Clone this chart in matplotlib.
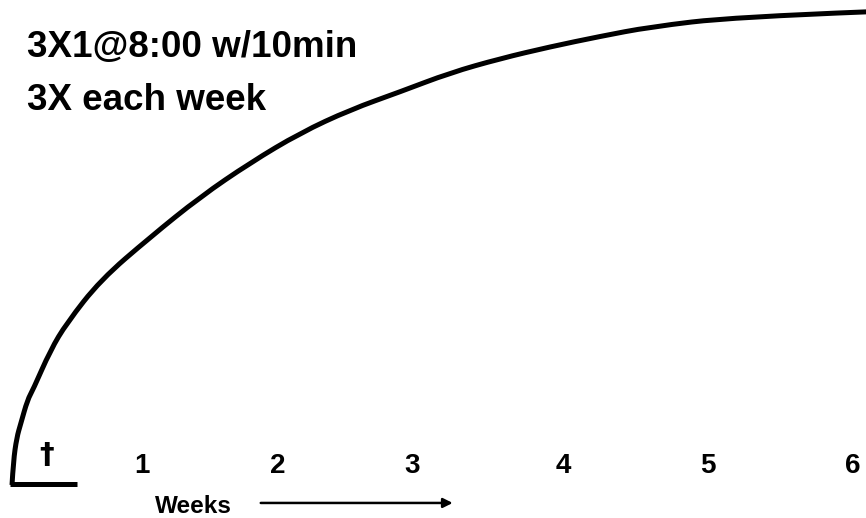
import matplotlib
matplotlib.use("Agg")
from matplotlib import pyplot as plt
from matplotlib.path import Path
from matplotlib.patches import PathPatch

plt.rcParams['font.family'] = ['Liberation Sans', 'DejaVu Sans']
plt.rcParams['font.weight'] = 'bold'

# fitness curve (x in weeks, y as level 0-100)
weeks = [0.015, 0.025, 0.05, 0.08, 0.13, 0.17, 0.30, 0.42, 0.67, 1.04, 1.41,
         1.78, 2.15, 2.52, 2.89, 3.26, 3.63, 4.0, 4.37, 4.74, 5.36, 6.35]
level = [0, 5, 10, 13, 18, 20.1, 28.5, 34.2, 43.3, 52.4, 60.9,
         68.1, 74.4, 79.3, 83.1, 87.1, 90.1, 92.6, 94.8, 96.8, 98.9, 100]

# little base line at the start
base_x = [0.0, 0.50]
base_y = [0.2, 0.2]

week_pos = [0.98, 1.98, 2.98, 4.10, 5.17, 6.24]
week_labels = ["1", "2", "3", "4", "5", "6"]

title_lines = ["3X1@8:00 w/10min", "3X each week"]

fig = plt.figure(figsize=(8.66, 5.18), dpi=100)
ax = fig.add_axes([0, 0, 1, 1])
ax.set_xlim(-0.074, 6.341)
ax.set_ylim(-6.98, 102.5)
ax.axis('off')

# smooth the curve: points are control points, midpoints lie on the curve
pts = list(zip(weeks, level))
verts = [pts[0]]
codes = [Path.MOVETO]
for i in range(1, len(pts) - 1):
    mid = ((pts[i][0] + pts[i + 1][0]) / 2, (pts[i][1] + pts[i + 1][1]) / 2)
    if i == len(pts) - 2:
        mid = pts[-1]
    verts += [pts[i], mid]
    codes += [Path.CURVE3, Path.CURVE3]
curve = PathPatch(Path(verts, codes), facecolor='none', edgecolor='black', lw=3.6, capstyle='butt')
ax.add_patch(curve)
ax.plot(base_x, base_y, color='black', lw=3.6, solid_capstyle='butt')

ax.text(0.126, 90.5, title_lines[0], fontsize=26.5, fontweight='bold', ha='left', va='baseline')
ax.text(0.126, 79.3, title_lines[1], fontsize=26.5, fontweight='bold', ha='left', va='baseline')

for p, lab in zip(week_pos, week_labels):
    ax.text(p, 2.54, lab, fontsize=20, fontweight='bold', ha='center', va='baseline')

ax.text(0.274, 4.6, "\u2020", fontsize=21, fontweight='bold', ha='center', va='baseline',
        family='DejaVu Sans')

ax.text(1.074, -5.9, "Weeks", fontsize=17.5, fontweight='bold', ha='left', va='baseline')
ax.annotate("", xy=(3.30, -3.8), xytext=(1.837, -3.8),
            arrowprops=dict(arrowstyle='-|>', color='black', lw=1.8, mutation_scale=14))

fig.savefig("out.png", dpi=100)
